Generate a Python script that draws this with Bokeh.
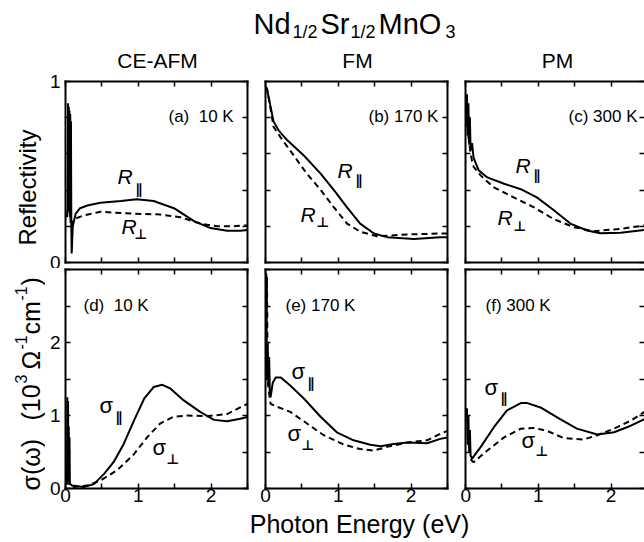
import math
from bokeh.plotting import figure
from bokeh.models import Range1d, FixedTicker, LinearAxis, Label
from bokeh.layouts import column, row
from bokeh.embed import file_html
from bokeh.resources import INLINE

FONT = "Liberation Sans"

# ---------------- data (photon energy in eV) ----------------
# (a) CE-AFM 10 K reflectivity
a_par_x = [0.02, 0.03, 0.035, 0.04, 0.045, 0.05, 0.055, 0.06, 0.065, 0.07, 0.075, 0.08, 0.085, 0.09, 0.1, 0.14,
           0.2, 0.3, 0.48, 0.76, 0.98, 1.21, 1.49, 1.76, 1.99, 2.22, 2.4, 2.5]
a_par_y = [0.25, 0.3, 0.88, 0.35, 0.86, 0.28, 0.84, 0.25, 0.82, 0.22, 0.78, 0.2, 0.05, 0.1, 0.2, 0.27,
           0.3, 0.315, 0.33, 0.34, 0.35, 0.34, 0.30, 0.23, 0.19, 0.175, 0.175, 0.18]
a_perp_x = [0.08, 0.09, 0.12, 0.25, 0.48, 0.93, 1.3, 1.58, 1.85, 2.08, 2.3, 2.5]
a_perp_y = [0.2, 0.215, 0.24, 0.26, 0.28, 0.27, 0.265, 0.25, 0.215, 0.20, 0.2, 0.205]
# (b) FM 170 K reflectivity
b_par_x = [0.0, 0.02, 0.07, 0.11, 0.18, 0.30, 0.53, 0.76, 0.94, 1.12, 1.30, 1.49, 1.67, 2.04, 2.40, 2.5]
b_par_y = [0.97, 0.96, 0.86, 0.78, 0.73, 0.675, 0.59, 0.49, 0.40, 0.305, 0.215, 0.16, 0.14, 0.13, 0.14, 0.14]
b_perp_x = [0.0, 0.02, 0.07, 0.11, 0.21, 0.39, 0.57, 0.76, 0.94, 1.12, 1.30, 1.53, 1.95, 2.40, 2.5]
b_perp_y = [0.97, 0.96, 0.85, 0.75, 0.69, 0.59, 0.49, 0.40, 0.305, 0.215, 0.17, 0.145, 0.155, 0.16, 0.16]
# (c) PM 300 K reflectivity
c_par_x = [0.015, 0.02, 0.03, 0.04, 0.05, 0.06, 0.07, 0.09, 0.11, 0.18, 0.30, 0.53, 0.76, 0.98, 1.21, 1.44,
           1.67, 1.85, 2.13, 2.46]
c_par_y = [0.75, 0.93, 0.7, 0.88, 0.65, 0.8, 0.62, 0.66, 0.58, 0.51, 0.47, 0.435, 0.405, 0.36, 0.29, 0.215,
           0.177, 0.162, 0.164, 0.18]
c_perp_x = [0.04, 0.07, 0.09, 0.11, 0.21, 0.39, 0.66, 0.94, 1.21, 1.49, 1.76, 2.13, 2.46]
c_perp_y = [0.7, 0.6, 0.56, 0.53, 0.48, 0.415, 0.36, 0.305, 0.24, 0.195, 0.173, 0.186, 0.205]
# (d) CE-AFM 10 K conductivity (10^3 Ohm^-1 cm^-1)
d_par_x = [0.02, 0.025, 0.03, 0.035, 0.04, 0.045, 0.05, 0.055, 0.06, 0.07, 0.09, 0.25, 0.39, 0.53, 0.66, 0.80,
           0.94, 1.08, 1.21, 1.33, 1.44, 1.62, 1.85, 2.04, 2.22, 2.40, 2.5]
d_par_y = [0.05, 1.25, 0.1, 1.2, 0.1, 0.85, 0.05, 0.7, 0.05, 0.06, 0.04, 0.02, 0.06, 0.2, 0.36, 0.61,
           0.93, 1.23, 1.39, 1.42, 1.37, 1.21, 1.05, 0.94, 0.92, 0.955, 0.98]
d_perp_x = [0.1, 0.3, 0.48, 0.71, 0.94, 1.12, 1.30, 1.48, 1.67, 1.94, 2.22, 2.40, 2.5]
d_perp_y = [0.02, 0.04, 0.11, 0.25, 0.47, 0.70, 0.89, 0.98, 1.0, 0.99, 1.02, 1.11, 1.16]
# (e) FM 170 K conductivity
e_par_x = [0.01, 0.02, 0.03, 0.04, 0.05, 0.06, 0.07, 0.1, 0.14, 0.21, 0.34, 0.53, 0.76, 0.98, 1.21, 1.44,
           1.58, 1.76, 1.95, 2.22, 2.40, 2.5]
e_par_y = [2.1, 1.5, 2.0, 1.4, 1.8, 1.3, 1.25, 1.45, 1.52, 1.52, 1.41, 1.23, 0.98, 0.77, 0.66, 0.60,
           0.58, 0.61, 0.63, 0.62, 0.68, 0.70]
e_perp_x = [0.01, 0.015, 0.02, 0.03, 0.05, 0.07, 0.16, 0.34, 0.57, 0.80, 1.08, 1.30, 1.49, 1.67, 1.95, 2.22,
            2.40, 2.5]
e_perp_y = [2.95, 2.0, 2.9, 1.5, 1.3, 1.16, 1.12, 1.05, 0.89, 0.73, 0.60, 0.54, 0.52, 0.57, 0.63, 0.66,
            0.75, 0.79]
# (f) PM 300 K conductivity
f_par_x = [0.02, 0.03, 0.04, 0.05, 0.06, 0.07, 0.09, 0.21, 0.39, 0.57, 0.76, 0.85, 1.03, 1.30, 1.53, 1.81,
           2.04, 2.27, 2.46]
f_par_y = [1.1, 0.6, 1.0, 0.5, 0.8, 0.45, 0.41, 0.57, 0.84, 1.07, 1.17, 1.17, 1.11, 0.95, 0.82, 0.74,
           0.77, 0.86, 0.95]
f_perp_x = [0.07, 0.11, 0.30, 0.53, 0.76, 0.94, 1.12, 1.35, 1.62, 1.81, 2.04, 2.27, 2.46]
f_perp_y = [0.4, 0.36, 0.52, 0.70, 0.82, 0.83, 0.79, 0.69, 0.67, 0.73, 0.82, 0.93, 1.05]

x_ticks = [0, 1, 2]
x_minor = [0.5, 1.5, 2.5]
r_ticks = [0, 1]
r_minor = [0.2, 0.4, 0.6, 0.8]
s_ticks = [0, 1, 2]
s_minor = [0.5, 1.5, 2.5, 3]


def make_axis(ticks, minor, labels, line=True):
    if labels:
        ax = LinearAxis(ticker=FixedTicker(ticks=ticks, minor_ticks=minor))
        ax.major_label_text_font = FONT
        ax.major_label_text_font_size = "19px"
        ax.major_label_text_color = "black"
    else:
        ax = LinearAxis(ticker=FixedTicker(ticks=[], minor_ticks=sorted(ticks + minor)))
        ax.major_label_standoff = 0
    ax.axis_line_width = 2
    ax.axis_line_color = "black" if line else None
    ax.axis_line_cap = "square"
    ax.major_tick_in = 5
    ax.major_tick_out = 0
    ax.minor_tick_in = 5
    ax.minor_tick_out = 0
    ax.major_tick_line_width = 1.5
    ax.minor_tick_line_width = 1.5
    ax.major_tick_line_color = "black"
    ax.minor_tick_line_color = "black"
    return ax


def make_panel(width, height, bl, br, bt, bb, xmax, ymax, yt, ym, xlab, ylab, right_line=True):
    p = figure(width=width, height=height, x_range=Range1d(0, xmax), y_range=Range1d(0, ymax),
               x_axis_type=None, y_axis_type=None, toolbar_location=None, output_backend="svg",
               min_border_left=bl, min_border_right=br, min_border_top=bt, min_border_bottom=bb,
               outline_line_color=None, background_fill_color="white", border_fill_color="white")
    bx = make_axis(x_ticks, x_minor, xlab)
    bx.major_label_standoff = 0
    p.add_layout(bx, "below")
    p.add_layout(make_axis(x_ticks, x_minor, False), "above")
    ly = make_axis(yt, ym, ylab)
    if ylab:
        ly.major_label_standoff = 5
    p.add_layout(ly, "left")
    p.add_layout(make_axis(yt, ym, False, right_line), "right")
    return p


def lab(p, fl, fb, px, py, text, size, italic=False, bold=False, angle=0.0, align="left", font=FONT):
    style = "italic" if italic else ("bold" if bold else "normal")
    p.add_layout(Label(x=px - fl, y=fb - py, x_units="screen", y_units="screen", text=text,
                       text_font=font, text_font_size=f"{size}px", text_font_style=style,
                       text_align=align, text_baseline="middle", angle=angle, text_color="black"))


def curves(p, xs1, ys1, xs2, ys2):
    p.line(xs2, ys2, line_color="black", line_width=2, line_dash="6 4")
    p.line(xs1, ys1, line_color="black", line_width=2)


def blank(width, height):
    return figure(width=width, height=height, x_range=Range1d(0, width), y_range=Range1d(0, height),
                  x_axis_type=None, y_axis_type=None, toolbar_location=None, output_backend="svg",
                  min_border=0, outline_line_color=None, background_fill_color="white",
                  border_fill_color="white")


XM = 2.5
XMC = 179 / 72.8

pa = make_panel(205, 196, 20, 3, 9, 6, XM, 1, r_ticks, r_minor, False, True)
pb = make_panel(210, 196, 15, 13, 9, 6, XM, 1, r_ticks, r_minor, False, False)
pc = make_panel(184, 196, 5, 0, 9, 6, XMC, 1, r_ticks, r_minor, False, False, right_line=False)
pd = make_panel(205, 242, 20, 3, 1, 22, XM, 3, s_ticks, s_minor, True, True)
pe = make_panel(210, 242, 15, 13, 1, 22, XM, 3, s_ticks, s_minor, True, False)
pf = make_panel(184, 242, 5, 0, 1, 22, XMC, 3, s_ticks, s_minor, True, False, right_line=False)

curves(pa, a_par_x, a_par_y, a_perp_x, a_perp_y)
curves(pb, b_par_x, b_par_y, b_perp_x, b_perp_y)
curves(pc, c_par_x, c_par_y, c_perp_x, c_perp_y)
curves(pd, d_par_x, d_par_y, d_perp_x, d_perp_y)
curves(pe, e_par_x, e_par_y, e_perp_x, e_perp_y)
curves(pf, f_par_x, f_par_y, f_perp_x, f_perp_y)

PAR = "\u2225"
PERP = "\u22a5"
SYMF = "DejaVu Sans"
SP2 = "\u00a0 "

# panel annotations - top row (page coordinates of glyph centres)
lab(pa, 65, 262, 168, 116, "(a)" + SP2 + "10 K", 17)
lab(pa, 65, 262, 117, 176, "R", 21, italic=True)
lab(pa, 65, 262, 135, 188, PAR, 14, bold=True, font=SYMF)
lab(pa, 65, 262, 121, 226, "R", 21, italic=True)
lab(pa, 65, 262, 134, 233, PERP, 14, bold=True, font=SYMF)

lab(pb, 265, 262, 368, 116, "(b) 170 K", 17)
lab(pb, 265, 262, 337, 170, "R", 21, italic=True)
lab(pb, 265, 262, 355, 179, PAR, 14, bold=True, font=SYMF)
lab(pb, 265, 262, 300, 214, "R", 21, italic=True)
lab(pb, 265, 262, 316, 221, PERP, 14, bold=True, font=SYMF)

lab(pc, 465, 262, 568, 116, "(c) 300 K", 17)
lab(pc, 465, 262, 515, 165, "R", 21, italic=True)
lab(pc, 465, 262, 533, 174, PAR, 14, bold=True, font=SYMF)
lab(pc, 465, 262, 497, 217, "R", 21, italic=True)
lab(pc, 465, 262, 513, 225, PERP, 14, bold=True, font=SYMF)

# panel annotations - bottom row
lab(pd, 65, 488, 83, 305, "(d)" + SP2 + "10 K", 17)
lab(pd, 65, 488, 99, 405, "\u03c3", 22)
lab(pd, 65, 488, 115, 416, PAR, 14, bold=True, font=SYMF)
lab(pd, 65, 488, 152, 447, "\u03c3", 22)
lab(pd, 65, 488, 166, 458, PERP, 14, bold=True, font=SYMF)

lab(pe, 265, 488, 285, 305, "(e) 170 K", 17)
lab(pe, 265, 488, 291, 371, "\u03c3", 22)
lab(pe, 265, 488, 307, 382, PAR, 14, bold=True, font=SYMF)
lab(pe, 265, 488, 287, 433, "\u03c3", 22)
lab(pe, 265, 488, 301, 444, PERP, 14, bold=True, font=SYMF)

lab(pf, 465, 488, 485, 305, "(f) 300 K", 17)
lab(pf, 465, 488, 484, 387, "\u03c3", 22)
lab(pf, 465, 488, 500, 397, PAR, 14, bold=True, font=SYMF)
lab(pf, 465, 488, 521, 440, "\u03c3", 22)
lab(pf, 465, 488, 535, 450, PERP, 14, bold=True, font=SYMF)

# header: main title and column titles (page y 0..72)
header = blank(644, 72)
lab(header, 0, 72, 253, 23, "Nd", 29)
lab(header, 0, 72, 292, 31, "1/2", 18)
lab(header, 0, 72, 320, 23, "Sr", 29)
lab(header, 0, 72, 350, 31, "1/2", 18)
lab(header, 0, 72, 378, 23, "MnO", 29)
lab(header, 0, 72, 445, 31, "3", 18)
lab(header, 0, 72, 157, 59.5, "CE-AFM", 21, align="center")
lab(header, 0, 72, 357, 59.5, "FM", 21, align="center")
lab(header, 0, 72, 557, 59.5, "PM", 21, align="center")

# left strip with the y-axis titles (page x 0..45, y 72..510)
ROT = math.pi / 2
ystrip = blank(45, 438)
lab(ystrip, 0, 510, 27, 187, "Reflectivity", 24, angle=ROT, align="center")
lab(ystrip, 0, 510, 30, 490, "\u03c3(\u03c9)", 25, angle=ROT)
lab(ystrip, 0, 510, 30, 420, "(10", 25, angle=ROT)
lab(ystrip, 0, 510, 20, 383, "3", 16, angle=ROT)
lab(ystrip, 0, 510, 30, 369, "\u03a9", 25, angle=ROT)
lab(ystrip, 0, 510, 20, 349, "-1", 16, angle=ROT)
lab(ystrip, 0, 510, 30, 334, "cm", 25, angle=ROT)
lab(ystrip, 0, 510, 20, 300, "-1", 16, angle=ROT)
lab(ystrip, 0, 510, 30, 285, ")", 25, angle=ROT)

# footer with the x-axis title (page y 510..542)
footer = blank(644, 32)
lab(footer, 0, 542, 359, 523.5, "Photon Energy (eV)", 25, align="center")

layout = column(header,
                row(ystrip, column(row(pa, pb, pc), row(pd, pe, pf))),
                footer)

with open("out.html", "w") as fh:
    fh.write(file_html(layout, INLINE))
